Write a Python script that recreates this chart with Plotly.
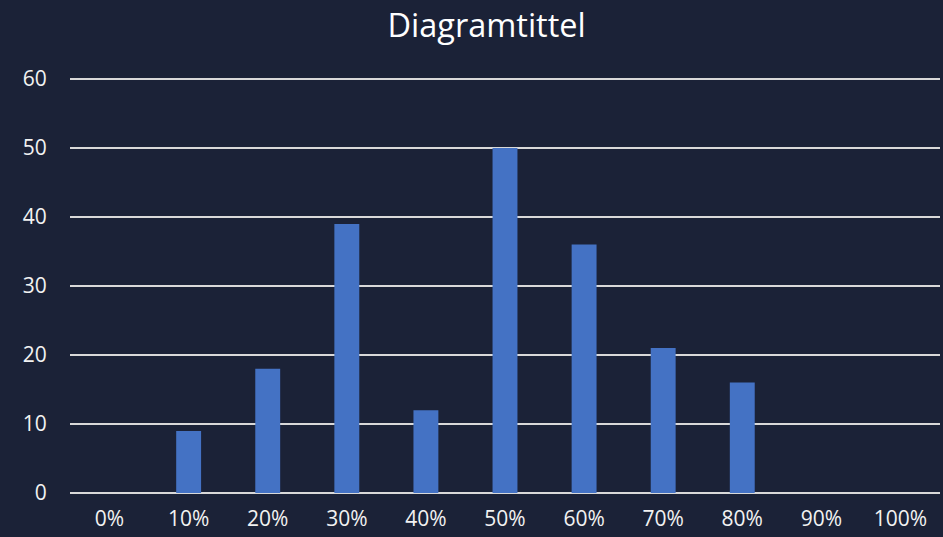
import plotly.graph_objects as go

categories = ["0%", "10%", "20%", "30%", "40%", "50%", "60%", "70%", "80%", "90%", "100%"]
values = [0, 9, 18, 39, 12, 50, 36, 21, 16, 0, 0]
y_ticks = [0, 10, 20, 30, 40, 50, 60]

bg = "#1b2237"
font_family = "Open Sans, Noto Sans, sans-serif"

fig = go.Figure(go.Bar(
    x=categories, y=values,
    marker=dict(color="#4472c4", line=dict(width=0)),
))

fig.update_layout(
    width=943, height=537,
    paper_bgcolor=bg, plot_bgcolor=bg,
    margin=dict(l=70, r=3, t=78, b=44),
    bargap=0.685,
    showlegend=False,
    title=dict(text="Diagramtittel", x=0.516, xanchor="center", y=0.953, yanchor="middle",
               font=dict(family=font_family, size=32.5, color="#ffffff")),
    font=dict(family=font_family, color="#f2f2f2", size=21),
)
fig.update_xaxes(
    type="category", showgrid=False, zeroline=False, showline=False,
    ticks="outside", ticklen=7, tickcolor="rgba(0,0,0,0)",
    tickfont=dict(size=21, color="#f2f2f2"),
)
fig.update_yaxes(
    range=[0, 60.15], tickvals=y_ticks, showgrid=True, gridcolor="#d9d9d9", gridwidth=1.5,
    zeroline=True, zerolinecolor="#d9d9d9", zerolinewidth=1.5, showline=False,
    ticks="outside", ticklen=18, tickcolor="rgba(0,0,0,0)",
    tickfont=dict(size=21, color="#f2f2f2"),
)

fig.write_html("out.html")
